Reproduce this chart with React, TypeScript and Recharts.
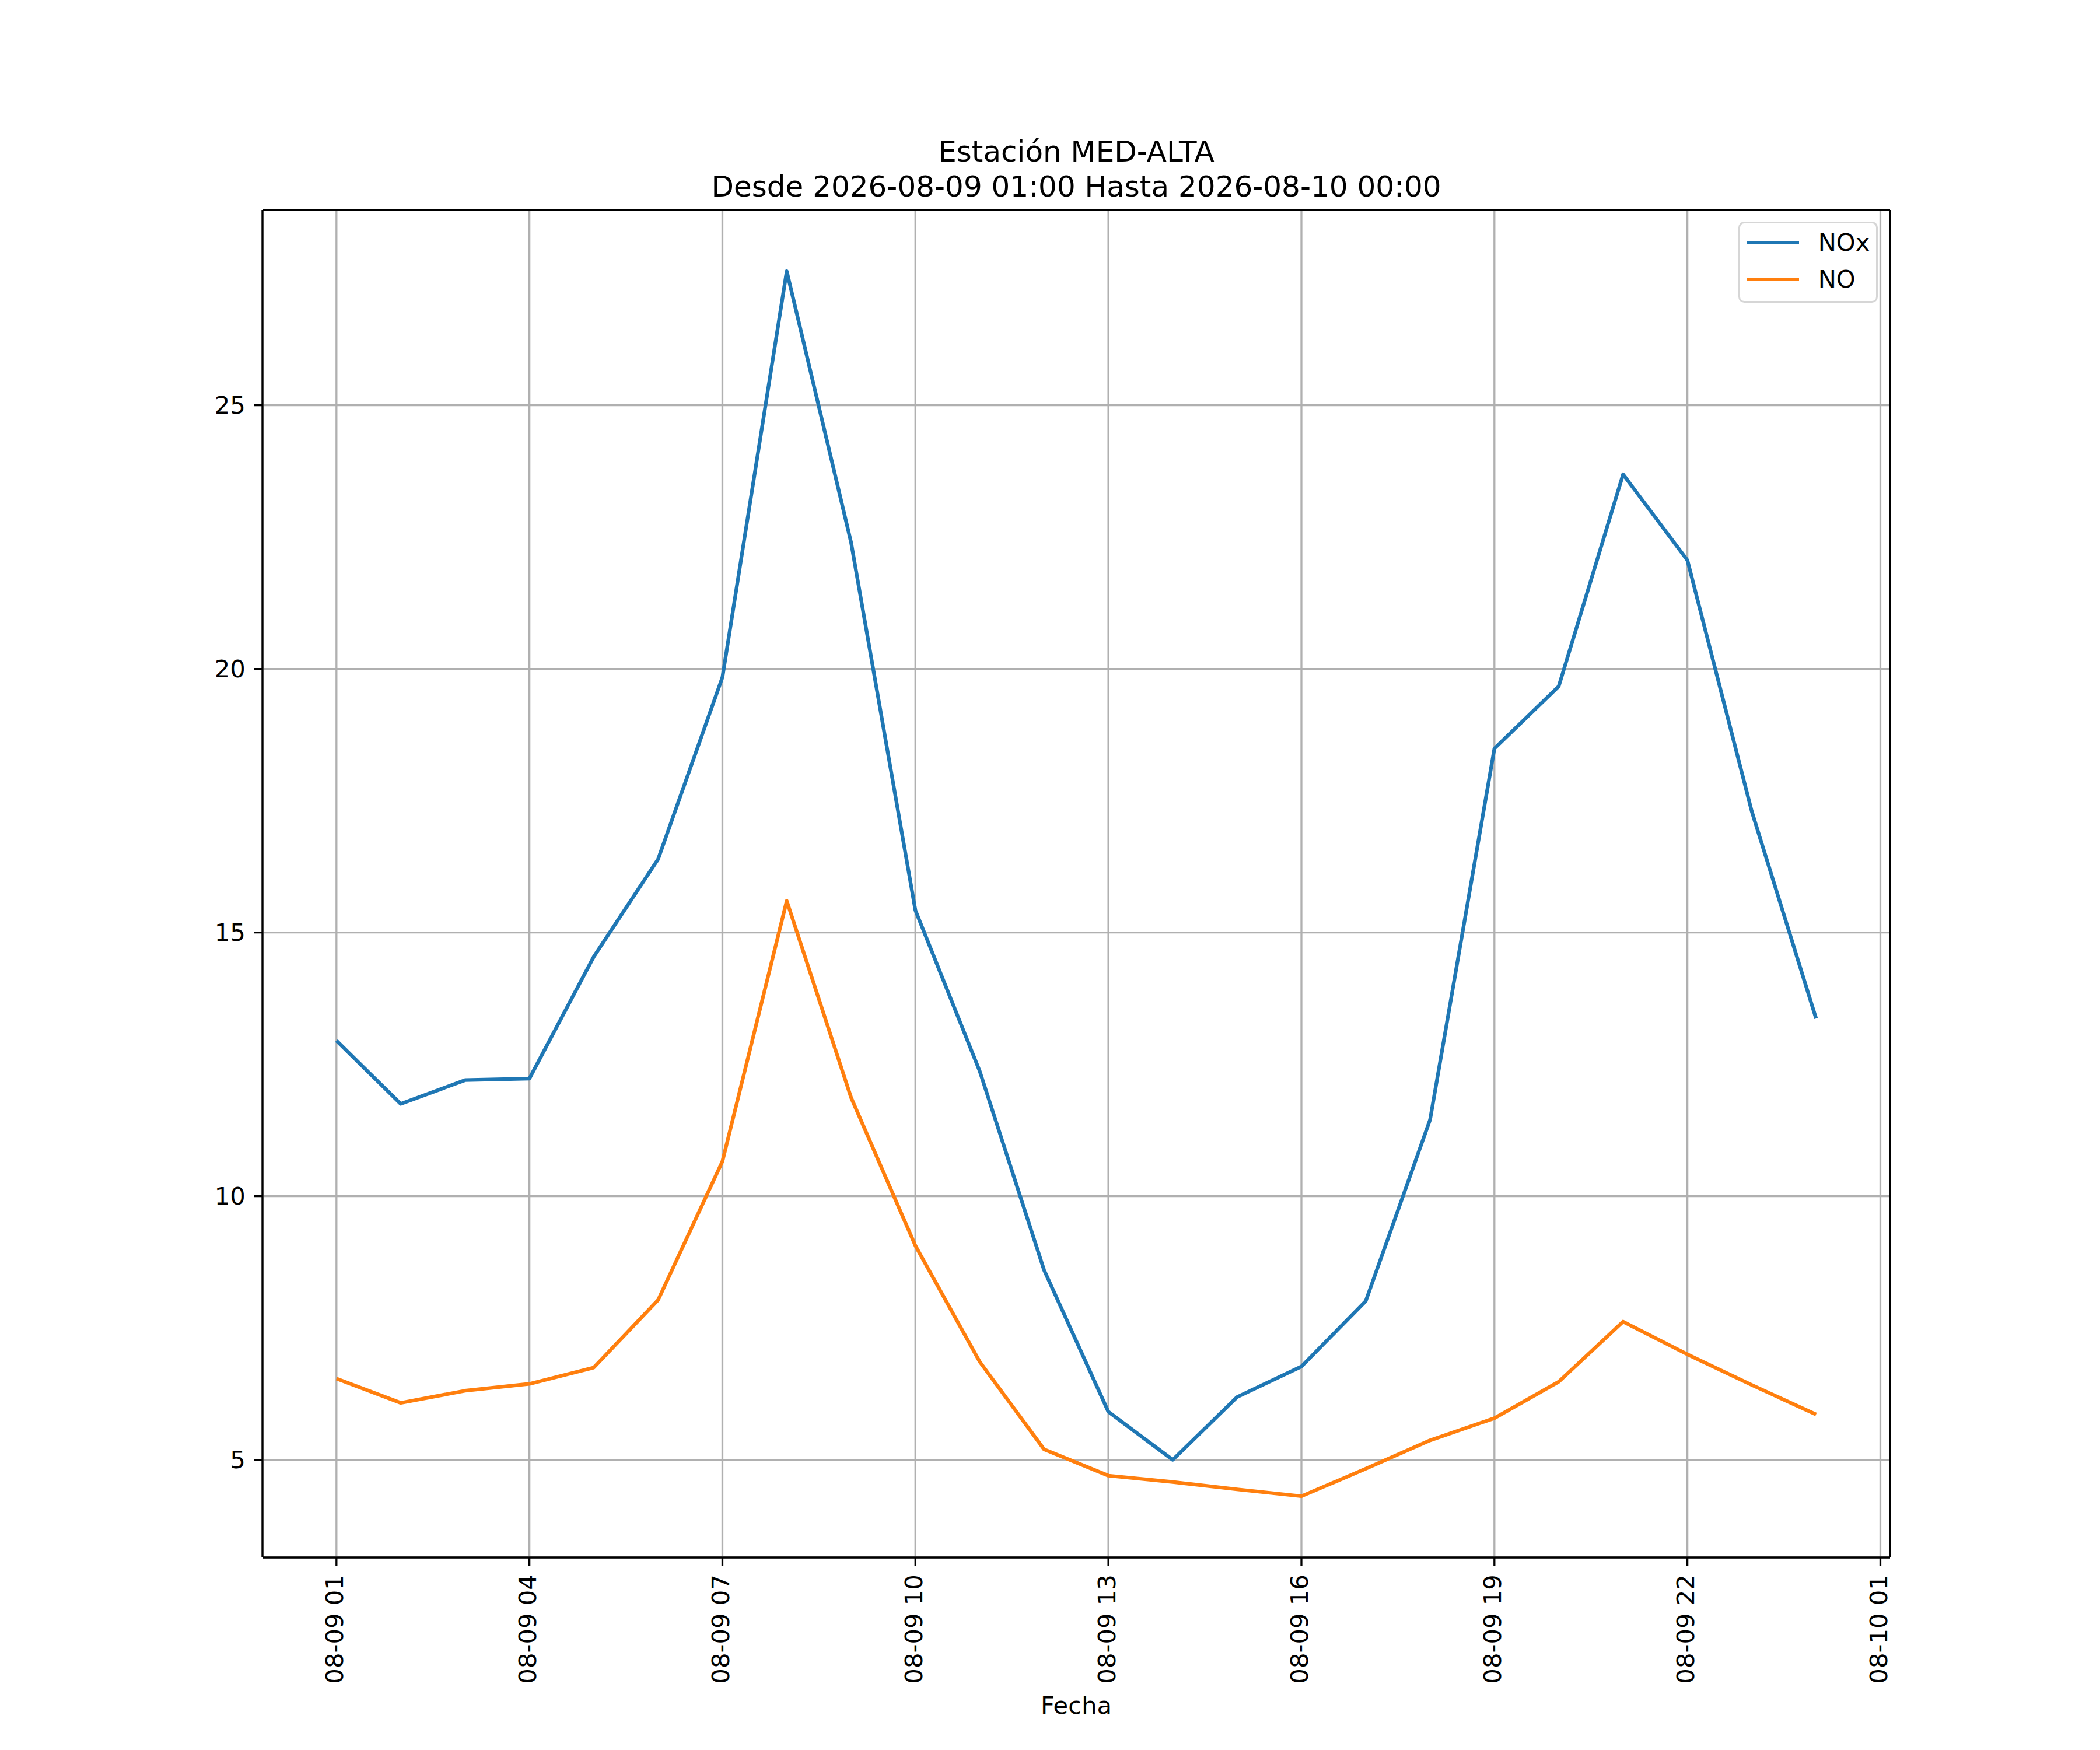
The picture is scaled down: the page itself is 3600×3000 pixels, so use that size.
import React from "react";
import {
  LineChart,
  Line,
  XAxis,
  YAxis,
  CartesianGrid,
  Legend,
  ReferenceLine,
} from "recharts";

// hours after 2026-08-09 01:00
const hours = [0, 1, 2, 3, 4, 5, 6, 7, 8, 9, 10, 11, 12, 13, 14, 15, 16, 17, 18, 19, 20, 21, 22, 23];

const noxValues = [
  12.95, 11.75, 12.2, 12.23, 14.54, 16.39, 19.84, 27.54, 22.4, 15.42, 12.37, 8.6,
  5.91, 5.0, 6.19, 6.77, 8.01, 11.45, 18.49, 19.67, 23.69, 22.06, 17.3, 13.37,
];

const noValues = [
  6.54, 6.08, 6.31, 6.44, 6.75, 8.03, 10.66, 15.6, 11.87, 9.06, 6.86, 5.2,
  4.7, 4.58, 4.44, 4.31, 4.83, 5.37, 5.79, 6.48, 7.62, 7.0, 6.42, 5.86,
];

const seriesNames = ["NOx", "NO"];

const xTicks = [0, 3, 6, 9, 12, 15, 18, 21, 24];
const xTickLabels = [
  "08-09 01",
  "08-09 04",
  "08-09 07",
  "08-09 10",
  "08-09 13",
  "08-09 16",
  "08-09 19",
  "08-09 22",
  "08-10 01",
];
const yTicks = [5, 10, 15, 20, 25];

const titleLines = ["Estación MED-ALTA", "Desde 2026-08-09 01:00 Hasta 2026-08-10 00:00"];

const X_MIN = -1.15;
const X_MAX = 24.15;
const Y_MIN = 3.1485;
const Y_MAX = 28.7015;

const FONT = "'DejaVu Sans', sans-serif";
const TICK_FONT = 41.7;
const LINE_W = 6.25;
const SPINE_W = 3.3;

const data = hours.map((h, i) => ({ h, nox: noxValues[i], no: noValues[i] }));

function XTick(props: any) {
  const { x, y, payload } = props;
  const idx = xTicks.indexOf(payload.value);
  return (
    <g transform={`translate(${x},${y})`}>
      <text
        transform="rotate(-90)"
        x={0}
        y={-3}
        textAnchor="end"
        dominantBaseline="central"
        fontSize={TICK_FONT}
        fontFamily={FONT}
        fill="#000"
      >
        {idx >= 0 ? xTickLabels[idx] : ""}
      </text>
    </g>
  );
}

function LegendBox(props: any) {
  const payload = [...(props.payload || [])].sort(
    (a: any, b: any) => seriesNames.indexOf(a.value) - seriesNames.indexOf(b.value)
  );
  const rows = [32.7, 95.7];
  return (
    <div
      style={{
        boxSizing: "border-box",
        width: 239,
        height: 139,
        border: `${SPINE_W}px solid #d6d6d6`,
        borderRadius: 10,
        background: "rgba(255,255,255,0.8)",
        position: "relative",
        fontFamily: FONT,
      }}
    >
      {payload.map((p: any, i: number) => (
        <React.Fragment key={p.value}>
          <div
            style={{
              position: "absolute",
              left: 10.7,
              top: rows[i] - LINE_W / 2,
              width: 90,
              height: LINE_W,
              background: p.color,
            }}
          />
          <div
            style={{
              position: "absolute",
              left: 133.7,
              top: rows[i] - 25,
              height: 50,
              lineHeight: "50px",
              fontSize: TICK_FONT,
              color: "#000",
              whiteSpace: "nowrap",
            }}
          >
            {p.value}
          </div>
        </React.Fragment>
      ))}
    </div>
  );
}

export default function App() {
  return (
    <div
      style={{
        position: "absolute",
        left: 0,
        top: 0,
        width: 3600,
        height: 3000,
        background: "#fff",
        fontFamily: FONT,
      }}
    >
      <div
        style={{
          position: "absolute",
          left: 845,
          top: 230,
          width: 2000,
          textAlign: "center",
          fontSize: 50,
          lineHeight: "60px",
          color: "#000",
          whiteSpace: "nowrap",
        }}
      >
        {titleLines.map((t) => (
          <div key={t}>{t}</div>
        ))}
      </div>
      <LineChart
        width={3600}
        height={3000}
        data={data}
        margin={{ top: 360, right: 360, bottom: 0, left: 0 }}
        style={{ position: "absolute", left: 0, top: 0 }}
      >
        <CartesianGrid stroke="#b0b0b0" strokeWidth={SPINE_W} />
        <XAxis
          dataKey="h"
          type="number"
          domain={[X_MIN, X_MAX]}
          allowDataOverflow
          ticks={xTicks}
          interval={0}
          height={330}
          tickSize={14.6}
          tickMargin={14.6}
          tick={<XTick />}
          axisLine={{ stroke: "#000", strokeWidth: SPINE_W }}
          tickLine={{ stroke: "#000", strokeWidth: SPINE_W }}
          label={{
            value: "Fecha",
            position: "insideBottom",
            offset: 62,
            fontSize: TICK_FONT,
            fontFamily: FONT,
            fill: "#000",
          }}
        />
        <YAxis
          type="number"
          domain={[Y_MIN, Y_MAX]}
          allowDataOverflow
          ticks={yTicks}
          interval={0}
          width={450}
          tickSize={14.6}
          tickMargin={14.6}
          tick={{ fontSize: TICK_FONT, fontFamily: FONT, fill: "#000" }}
          axisLine={{ stroke: "#000", strokeWidth: SPINE_W }}
          tickLine={{ stroke: "#000", strokeWidth: SPINE_W }}
        />
        <Line
          type="linear"
          dataKey="nox"
          name={seriesNames[0]}
          stroke="#1f77b4"
          strokeWidth={LINE_W}
          strokeLinejoin="round"
          dot={false}
          activeDot={false}
          isAnimationActive={false}
        />
        <Line
          type="linear"
          dataKey="no"
          name={seriesNames[1]}
          stroke="#ff7f0e"
          strokeWidth={LINE_W}
          strokeLinejoin="round"
          dot={false}
          activeDot={false}
          isAnimationActive={false}
        />
        <ReferenceLine y={Y_MAX} stroke="#000" strokeWidth={SPINE_W} />
        <ReferenceLine x={X_MAX} stroke="#000" strokeWidth={SPINE_W} />
        <Legend
          layout="vertical"
          align="center"
          verticalAlign="middle"
          content={<LegendBox />}
          wrapperStyle={{ left: 2980, top: 380, width: 239, height: 139 }}
        />
      </LineChart>
    </div>
  );
}
